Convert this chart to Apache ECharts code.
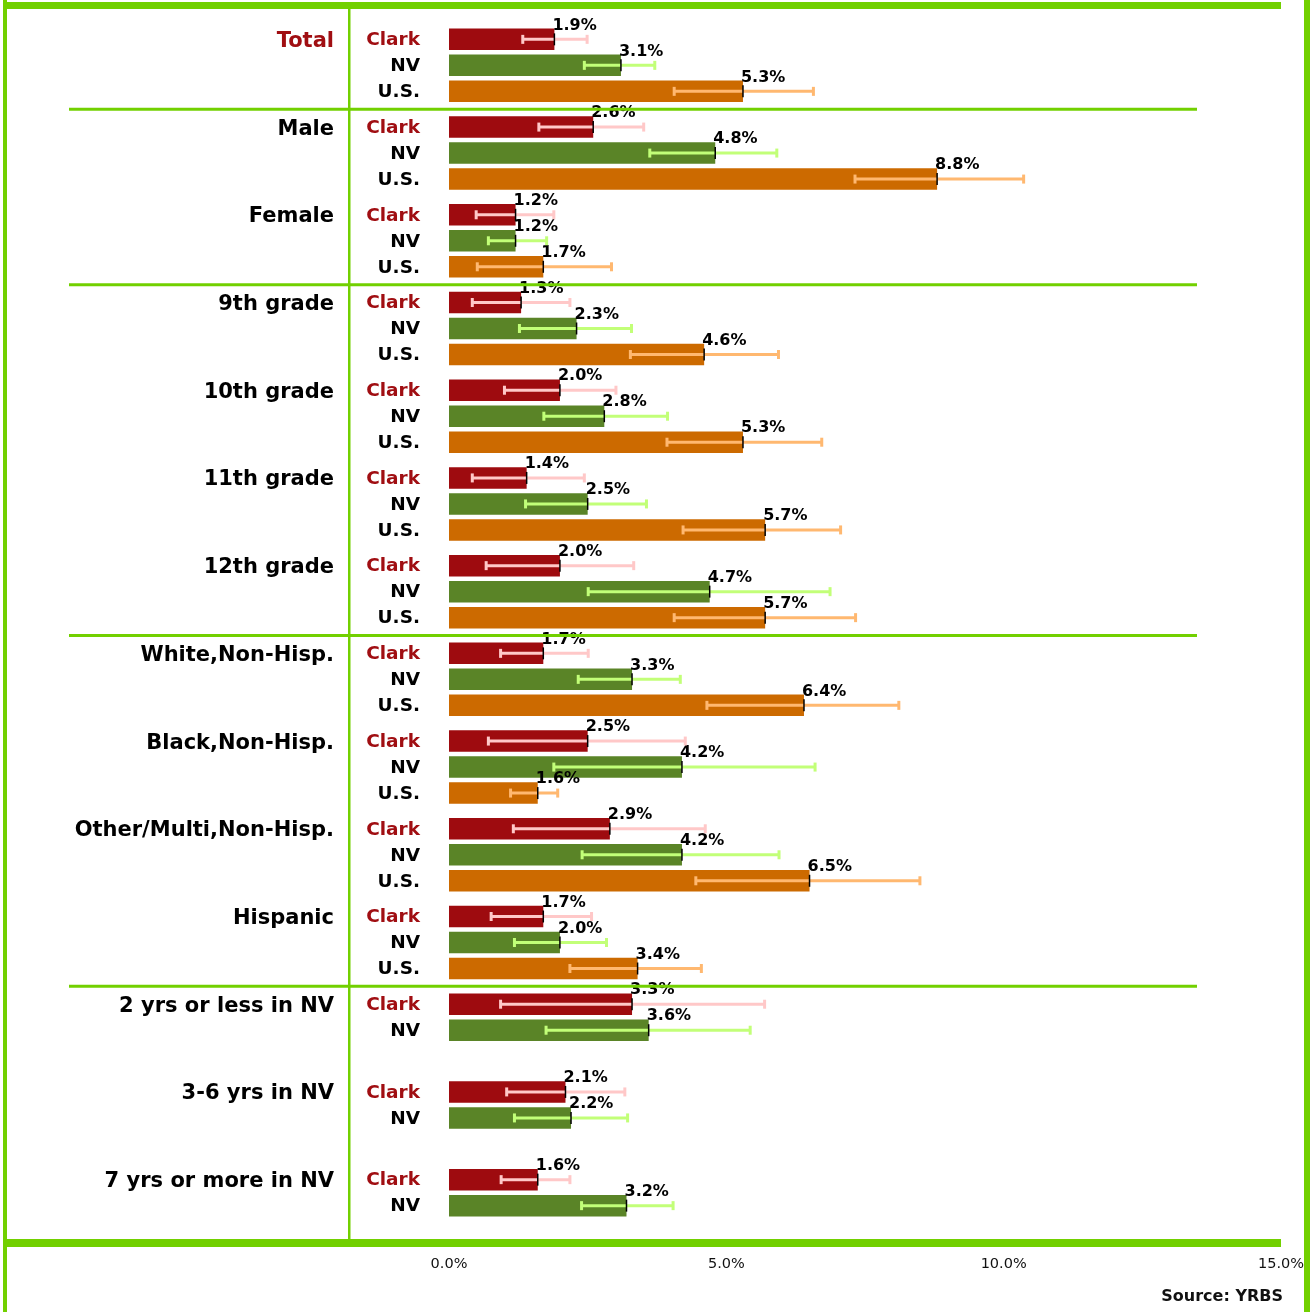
<!DOCTYPE html>
<html>
<head>
<meta charset="utf-8">
<script src="https://cdn.jsdelivr.net/npm/echarts@6/dist/echarts.min.js"></script>
<style>
html,body{margin:0;padding:0;background:#fff;}
#chart{width:1314px;height:1312px;}
</style>
</head>
<body>
<div id="chart"></div>
<script>
// ---- data ----
const groups = ['Total','Male','Female','9th grade','10th grade','11th grade','12th grade',
  'White,Non-Hisp.','Black,Non-Hisp.','Other/Multi,Non-Hisp.','Hispanic',
  '2 yrs or less in NV','3-6 yrs in NV','7 yrs or more in NV'];
const rowNames = ['Clark','NV','U.S.'];

const clark     = [1.9, 2.6, 1.2, 1.3, 2.0, 1.4, 2.0, 1.7, 2.5, 2.9, 1.7, 3.3, 2.1, 1.6];
const clarkLow  = [1.33,1.62,0.49,0.42,1.00,0.42,0.67,0.93,0.71,1.16,0.76,0.93,1.04,0.94];
const clarkHigh = [2.49,3.51,1.89,2.18,3.01,2.44,3.33,2.51,4.26,4.62,2.57,5.69,3.17,2.18];

const nv     = [3.1, 4.8, 1.2, 2.3, 2.8, 2.5, 4.7, 3.3, 4.2, 4.2, 2.0, 3.6, 2.2, 3.2];
const nvLow  = [2.44,3.62,0.71,1.27,1.71,1.38,2.51,2.33,1.89,2.40,1.18,1.75,1.18,2.39];
const nvHigh = [3.71,5.91,1.76,3.29,3.94,3.56,6.87,4.17,6.60,5.95,2.84,5.43,3.22,4.04];

const us     = [5.3, 8.8, 1.7, 4.6, 5.3, 5.7, 5.7, 6.4, 1.6, 6.5, 3.4, null, null, null];
const usLow  = [4.06,7.32,0.51,3.27,3.93,4.22,4.06,4.65,1.11,4.45,2.18, null, null, null];
const usHigh = [6.57,10.36,2.93,5.94,6.72,7.06,7.33,8.11,1.96,8.49,4.55, null, null, null];

const xTicks = [0, 5, 10, 15];

// ---- styles ----
const FONT = '"DejaVu Sans", Verdana, sans-serif';
const GREEN = '#72d000';
const barColors = ['#9e0b0f', '#5a8427', '#cc6a00'];
const errColors = ['#ffc8c8', '#c2ff78', '#ffb870'];
const nameColors = ['#a00e12', '#000000', '#000000'];
const BAR_W = 21.5, SLOT = 26;

const sets = [
  {v: clark, lo: clarkLow, hi: clarkHigh},
  {v: nv, lo: nvLow, hi: nvHigh},
  {v: us, lo: usLow, hi: usHigh}
];

const chart = echarts.init(document.getElementById('chart'));

function makeErr(k) {
  const s = sets[k];
  const data = [];
  s.v.forEach((v, i) => { if (v != null) data.push([i, s.lo[i], s.hi[i], v]); });
  return {
    type: 'custom',
    name: rowNames[k] + ' CI',
    z: 5,
    data: data,
    encode: {x: [1, 2, 3], y: 0},
    renderItem: function (params, api) {
      const ci = api.value(0);
      const lo = api.value(1), hi = api.value(2), val = api.value(3);
      const c = api.coord([val, ci]);
      const y = c[1] + (k - 1) * SLOT;
      const xl = api.coord([lo, ci])[0];
      const xh = api.coord([hi, ci])[0];
      const x0 = api.coord([0, ci])[0];
      const col = errColors[k];
      return {
        type: 'group',
        children: [
          {type: 'line', shape: {x1: xl, y1: y, x2: xh, y2: y}, style: {stroke: col, lineWidth: 3}},
          {type: 'line', shape: {x1: xl, y1: y - 4.5, x2: xl, y2: y + 4.5}, style: {stroke: col, lineWidth: 3}},
          {type: 'line', shape: {x1: xh, y1: y - 4.5, x2: xh, y2: y + 4.5}, style: {stroke: col, lineWidth: 3}},
          {type: 'line', shape: {x1: c[0], y1: y - 6, x2: c[0], y2: y + 6}, style: {stroke: '#000', lineWidth: 1.5}},
          {type: 'text', x: x0 - 29, y: y + 1,
            style: {text: rowNames[k], textAlign: 'right', textVerticalAlign: 'middle',
              font: 'bold 18.5px ' + FONT, fill: nameColors[k]}}
        ]
      };
    }
  };
}

function makeBar(k) {
  return {
    type: 'bar',
    name: rowNames[k],
    data: sets[k].v,
    barWidth: BAR_W,
    barGap: ((SLOT - BAR_W) / BAR_W * 100).toFixed(1) + '%',
    itemStyle: {color: barColors[k]},
    z: 2,
    label: {
      show: true,
      position: 'right',
      distance: 0,
      offset: [-2, -14],
      formatter: p => p.value.toFixed(1) + '%',
      color: '#000',
      fontFamily: FONT,
      fontWeight: 'bold',
      fontSize: 16
    }
  };
}

const option = {
  animation: false,
  backgroundColor: '#ffffff',
  grid: {left: 449, top: 21.5, width: 832, height: 1228},
  xAxis: {
    type: 'value', min: xTicks[0], max: xTicks[xTicks.length - 1], interval: xTicks[1] - xTicks[0],
    axisLine: {show: false}, axisTick: {show: false}, splitLine: {show: false},
    axisLabel: {
      margin: 7, fontFamily: FONT, fontSize: 14.5, color: '#111',
      formatter: v => v.toFixed(1) + '%'
    }
  },
  yAxis: {
    type: 'category', inverse: true, data: groups,
    axisLine: {show: false}, axisTick: {show: false}, splitLine: {show: false},
    axisLabel: {
      interval: 0, margin: 115, fontFamily: FONT, fontWeight: 'bold', fontSize: 21,
      lineHeight: 48,
      formatter: v => v + '\n ',
      color: (v, i) => (i === 0 ? '#a00e12' : '#000')
    }
  },
  series: [makeBar(0), makeBar(1), makeBar(2), makeErr(0), makeErr(1), makeErr(2)]
};
chart.setOption(option);

// decorative frame and group separators
const sepBefore = [1, 3, 7, 11];
const frame = [
  {type: 'rect', shape: {x: 3, y: 0, width: 4, height: 1312}, style: {fill: GREEN}},
  {type: 'rect', shape: {x: 1304, y: 0, width: 6, height: 1312}, style: {fill: GREEN}},
  {type: 'rect', shape: {x: 3, y: 2, width: 1278, height: 7}, style: {fill: GREEN}},
  {type: 'rect', shape: {x: 3, y: 1239, width: 1278, height: 8}, style: {fill: GREEN}},
  {type: 'rect', shape: {x: 348, y: 9, width: 2.5, height: 1231}, style: {fill: GREEN}},
  {type: 'text', x: 1283, y: 1297,
    style: {text: 'Source: YRBS', textAlign: 'right', textVerticalAlign: 'middle',
      font: 'bold 16px ' + FONT, fill: '#111'}}
];
sepBefore.forEach(i => {
  const a = chart.convertToPixel({yAxisIndex: 0}, i - 1);
  const b = chart.convertToPixel({yAxisIndex: 0}, i);
  const y = (a + b) / 2;
  frame.push({type: 'rect', shape: {x: 69, y: y - 1.5, width: 1128, height: 3}, style: {fill: GREEN}, z: 10});
});
chart.setOption({graphic: {elements: frame}});
</script>
</body>
</html>
